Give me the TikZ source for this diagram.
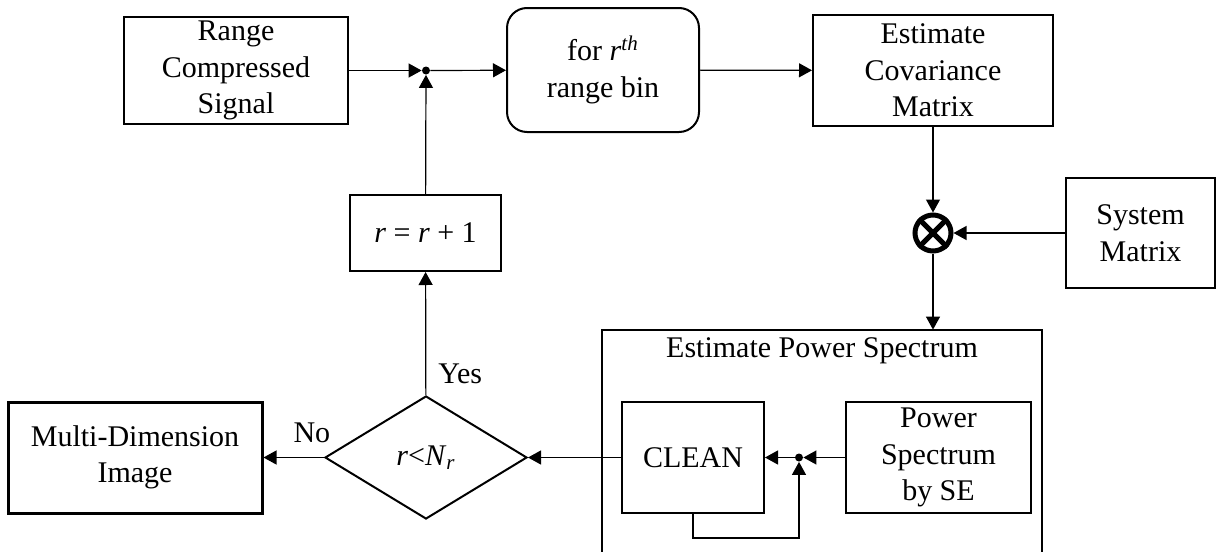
\documentclass[tikz,border=0pt]{standalone}
\usepackage{fontspec}
\setmainfont{Liberation Serif}
\usetikzlibrary{arrows.meta,shapes.geometric}

\begin{document}
\begin{tikzpicture}[
    x=0.5pt, y=-0.5pt,
    every node/.style={font=\fontsize{15}{18.3}\selectfont, align=center, inner sep=0pt},
    block/.style={draw, line width=1pt},
    rblock/.style={block, rounded corners=10pt},
    decision/.style={draw, diamond, line width=1pt, minimum width=101pt, minimum height=61.5pt},
    dot/.style={circle, fill, minimum size=4pt},
    mult/.style={circle, draw, line width=2.5pt, minimum size=18pt},
    line/.style={line width=0.6pt},
    arrow/.style={line, -{Triangle[length=6.5pt,width=7pt]}},
]
\useasboundingbox (0,0) rectangle (1222,552);

% top row
\node[block, minimum width=112pt, minimum height=53.5pt] (rcs) at (236,70.5) {Range\\Compressed\\Signal};
\node[dot] (j1) at (426,70.5) {};
\node[rblock, minimum width=96pt, minimum height=62pt] (bin) at (603,70) {for \textit{r}\textsuperscript{\textit{th}}\\range bin};
\node[block, minimum width=120pt, minimum height=55.5pt] (cov) at (933,70.5) {Estimate\\Covariance\\Matrix};

% multiplier and system matrix
\node[mult] (mul) at (933,233) {};
\draw[line width=2.5pt] (mul.north west) -- (mul.south east) (mul.north east) -- (mul.south west);
\node[block, minimum width=74.5pt, minimum height=55pt] (sys) at (1140.5,233) {System\\Matrix};

% power spectrum estimation
\node[minimum width=220pt, minimum height=111pt] (ps) at (822,441) {};
\draw[block] (ps.south west) -- (ps.north west) -- (ps.north east) -- (ps.south east);
\node (pstitle) at (822,351) {Estimate Power Spectrum};
\node[block, minimum width=71pt, minimum height=55.5pt] (clean) at (693,457.5) {CLEAN};
\node[block, minimum width=92.5pt, minimum height=55.5pt] (pse) at (938.5,457.5) {Power\\Spectrum\\by SE};
\node[dot] (j2) at (799,457.5) {};

% loop control
\node[decision] (cond) at (426,457.5) {\textit{r}<\textit{N}\textsubscript{\textit{r}}};
\node[block, minimum width=75.5pt, minimum height=38pt] (inc) at (425.5,233) {\textit{r} = \textit{r} + 1};
\node[block, line width=1.5pt, minimum width=127pt, minimum height=55.5pt] (img) at (135,457.5) {Multi-Dimension\\Image};

% connectors
\draw[arrow] (rcs) -- (j1);
\draw[arrow] (j1) -- (bin);
\draw[arrow] (bin) -- (cov);
\draw[arrow] (cov) -- (mul);
\draw[arrow] (sys) -- (mul);
\draw[arrow] (mul) -- (mul |- ps.north);
\draw[arrow] (pse) -- (j2);
\draw[arrow] (j2) -- (clean);
\draw[arrow] (clean.south) -- ++(0,24) -| (j2);
\draw[arrow] (clean) -- (cond);
\draw[arrow] (cond) -- node[pos=0.2, above=7pt] {No} (img);
\draw[arrow] (cond) -- node[pos=0.17, right=6pt] {Yes} (inc);
\draw[arrow] (inc) -- (j1);
\end{tikzpicture}
\end{document}
